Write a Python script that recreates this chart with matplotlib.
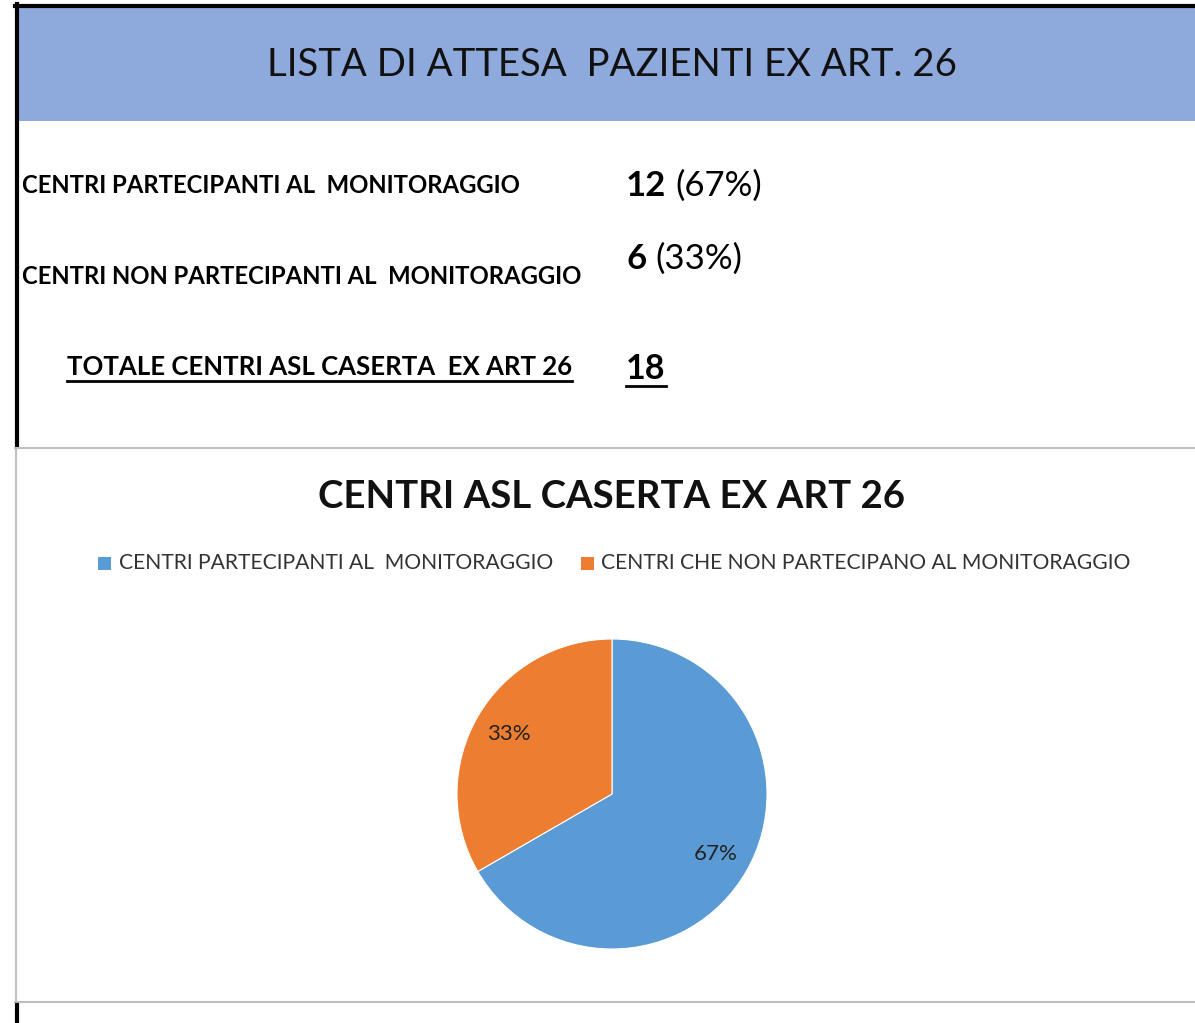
import matplotlib
matplotlib.use("Agg")
import matplotlib.pyplot as plt
from matplotlib.patches import Rectangle
from matplotlib.lines import Line2D

plt.rcParams['font.family'] = ['Lato', 'DejaVu Sans']

# data
categories = ["CENTRI PARTECIPANTI AL  MONITORAGGIO", "CENTRI CHE NON PARTECIPANO AL MONITORAGGIO"]
row_labels = ["CENTRI PARTECIPANTI AL  MONITORAGGIO", "CENTRI NON PARTECIPANTI AL  MONITORAGGIO"]
counts = [12, 6]
total = sum(counts)
colors = ["#5B9BD5", "#ED7D31"]

W, H = 1195, 1023
fig = plt.figure(figsize=(W / 100, H / 100), dpi=100)
r = fig.canvas.get_renderer()


def fx(x):
    return x / W


def fy(y):
    return 1 - y / H


def px_text(x, y, s, **kw):
    return fig.text(fx(x), fy(y), s, **kw)


def right_px(t):
    return t.get_window_extent(r).x1


# top block: blue header band + black frame
fig.patches.append(Rectangle((fx(19), fy(121)), fx(1195) - fx(19), fy(8) - fy(121),
                             transform=fig.transFigure, color="#8EA9DB", lw=0))
fig.lines.append(Line2D([fx(15), 1], [fy(5.5), fy(5.5)], transform=fig.transFigure, color="black", lw=3))
fig.lines.append(Line2D([fx(17), fx(17)], [fy(4), fy(447)], transform=fig.transFigure, color="black", lw=3))
px_text(612, 65, "LISTA DI ATTESA  PAZIENTI EX ART. 26", ha="center", va="center", fontsize=27.6, color="#111111")

# summary rows
px_text(22, 185, row_labels[0], ha="left", va="center", fontsize=17.2, fontweight="bold")
px_text(22, 276, row_labels[1], ha="left", va="center", fontsize=17.2, fontweight="bold")
t_tot = px_text(67, 367, "TOTALE CENTRI ASL CASERTA  EX ART 26", ha="left", va="center", fontsize=18.5, fontweight="bold")
fig.canvas.draw()
e = t_tot.get_window_extent(r)
fig.lines.append(Line2D([fx(67), e.x1 / W], [fy(381), fy(381)], transform=fig.transFigure, color="black", lw=2))

for y, c in [(186, counts[0]), (259, counts[1])]:
    a = px_text(626, y, str(c), ha="left", va="center", fontsize=25, fontweight="bold")
    fig.canvas.draw()
    x1 = right_px(a)
    fig.text(x1 / W + fx(9), fy(y), "(%d%%)" % round(100 * c / total), ha="left", va="center", fontsize=25)

t18 = px_text(626, 369, str(total), ha="left", va="center", fontsize=24.5, fontweight="bold")
fig.canvas.draw()
e = t18.get_window_extent(r)
fig.lines.append(Line2D([fx(626), e.x1 / W], [fy(386), fy(386)], transform=fig.transFigure, color="black", lw=2))

# chart box (gray)
gray = "#BFBFBF"
fig.lines.append(Line2D([fx(15), 1], [fy(448), fy(448)], transform=fig.transFigure, color=gray, lw=1.5))
fig.lines.append(Line2D([fx(15), 1], [fy(1002), fy(1002)], transform=fig.transFigure, color=gray, lw=1.5))
fig.lines.append(Line2D([fx(15.5), fx(15.5)], [fy(448), fy(1002)], transform=fig.transFigure, color=gray, lw=1.5))
fig.lines.append(Line2D([fx(17), fx(17)], [fy(1005), 0], transform=fig.transFigure, color="black", lw=3))

px_text(612, 497, "CENTRI ASL CASERTA EX ART 26", ha="center", va="center", fontsize=27.6, fontweight="bold", color="#111111")

# legend
for (xs, xt, lab, col) in [(98, 119, categories[0], colors[0]), (581, 601, categories[1], colors[1])]:
    fig.patches.append(Rectangle((fx(xs), fy(570)), fx(13), 13 / H, transform=fig.transFigure, color=col, lw=0))
    px_text(xt, 563, lab, ha="left", va="center", fontsize=15.25, color="#333333")

# pie
cx, cy, rad = 612, 794, 155
ax = fig.add_axes([fx(cx - rad), fy(cy + rad), 2 * rad / W, 2 * rad / H])
ax.pie(counts, colors=colors, startangle=90, counterclock=False,
       autopct=lambda p: "%d%%" % round(p), pctdistance=0.77,
       wedgeprops=dict(edgecolor="white", linewidth=0.8),
       textprops=dict(fontsize=16, color="#222222"))
ax.set_xlim(-1, 1)
ax.set_ylim(-1, 1)
ax.set_aspect("equal")
ax.axis("off")

fig.savefig("out.png", dpi=100)
